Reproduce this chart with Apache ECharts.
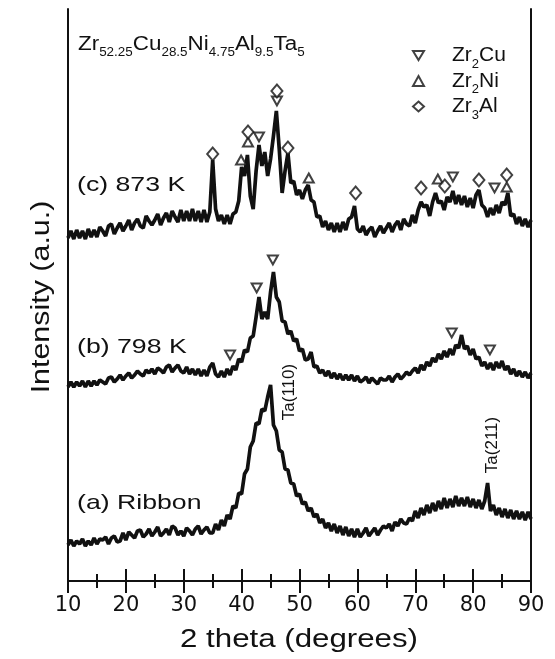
<!DOCTYPE html>
<html>
<head>
<meta charset="utf-8">
<script src="https://cdn.jsdelivr.net/npm/echarts@6.0.0/dist/echarts.min.js"></script>
<style>
html, body { margin: 0; padding: 0; background: #fff; }
#chart { width: 555px; height: 659px; }
</style>
</head>
<body>
<div id="chart"></div>
<script>
// 2 theta grid, 0.5 degree steps from 10 to 90
var twoTheta = [];
for (var i = 0; i <= 160; i++) twoTheta.push(10 + i * 0.5);

// (a) Ribbon
var ribbon = [
  36,41,35,40,37,42,35,40,36,43,
  37,42,41,44,37,43,45,39,40,48,
  41,49,46,43,50,51,44,47,52,45,
  49,54,45,48,52,46,55,53,46,50,
  45,53,50,46,52,55,47,51,54,48,
  48,57,51,61,55,66,62,75,73,88,
  87,107,112,134,140,158,157,172,170,184,
  196,156,150,131,129,112,111,98,97,85,
  87,77,79,70,73,64,67,58,62,53,
  58,50,57,48,55,46,54,45,52,44,
  52,44,48,53,45,49,53,46,51,55,
  53,57,50,59,55,62,58,57,63,60,
  70,63,73,66,76,68,78,70,80,72,
  83,73,82,74,85,75,83,75,84,74,
  82,73,81,72,80,98,70,76,66,73,
  64,72,63,71,62,70,62,69,61,69,
  62
];

// (b) 798 K
var k798 = [
  194,199,194,199,195,200,194,200,195,200,
  196,201,199,197,203,204,199,202,206,201,
  205,208,203,206,210,207,205,211,208,212,
  207,213,211,208,214,216,209,213,216,210,
  208,214,207,212,206,212,205,211,205,214,
  218,207,204,210,204,212,206,215,211,222,
  219,231,229,243,245,264,284,262,269,262,
  289,309,284,279,260,259,247,250,240,242,
  230,232,221,222,229,214,215,208,211,205,
  210,203,208,202,207,201,206,201,206,200,
  205,199,201,204,198,203,200,197,203,201,
  201,205,199,204,207,202,205,209,206,210,
  213,208,216,211,219,215,223,219,227,222,
  230,224,232,226,236,233,246,232,235,226,
  232,222,224,215,219,212,218,211,219,213,
  220,211,215,207,212,205,210,204,209,203,
  208
];

// (c) 873 K
var k873 = [
  343,350,342,351,343,350,342,352,344,351,
  344,354,350,345,355,357,347,353,358,350,
  355,361,351,358,362,355,353,365,360,356,
  361,367,356,363,368,359,370,364,359,371,
  360,370,360,372,360,370,359,371,359,369,
  421,372,360,366,357,366,357,367,369,380,
  414,405,426,385,372,410,436,415,429,405,
  422,445,470,432,388,410,428,398,400,386,
  391,382,391,396,381,379,364,365,354,360,
  351,358,349,358,349,359,351,362,364,375,
  352,349,355,346,351,354,344,350,355,348,
  353,358,349,356,360,351,362,357,355,366,
  358,371,379,374,376,365,379,388,378,380,
  371,384,379,390,377,386,376,385,374,383,
  373,386,391,376,373,364,373,366,376,368,
  379,376,388,365,367,357,364,355,362,354,
  361
];

// phase markers [2theta, height]
var zr2CuMarks = [[43.0,444],[46.1,480],[76.5,404],[83.7,393],
                  [38.0,226],[42.6,293],[45.4,321],[76.3,248],[82.9,231]];
var zr2NiMarks = [[39.9,421],[41.1,439],[51.6,403],[73.9,402],[85.8,394]];
var zr3AlMarks = [[35.0,427],[41.1,449],[46.1,490],[48.0,433],[59.7,388],
                  [71.0,393],[75.1,395],[81.0,401],[85.8,406]];

var phaseNames = ['Zr2Cu', 'Zr2Ni', 'Zr3Al'];
var alloy = 'Zr52.25Cu28.5Ni4.75Al9.5Ta5';
var xTicks = { min: 10, max: 90, step: 10 };

var FONT = '"Liberation Sans", Arial, sans-serif';
var INK = '#111';

function pairs(vals) {
  return twoTheta.map(function (t, i) { return [t, vals[i]]; });
}

// Zr2Cu -> {m|Zr}{s|2}{m|Cu}
function subRich(name) {
  return name.replace(/([A-Za-z]+)([\d.]+)?/g, function (m, el, n) {
    return '{m|' + el + '}' + (n ? '{s|' + n + '}' : '');
  });
}

var chart = echarts.init(document.getElementById('chart'));

function xAxisOf(pos) {
  return {
    type: 'value',
    position: pos,
    min: xTicks.min,
    max: xTicks.max,
    interval: xTicks.step,
    axisLine: { show: true, lineStyle: { color: INK, width: 2 } },
    axisTick: { show: true, inside: true, length: 12, lineStyle: { color: INK, width: 2 } },
    minorTick: { show: true, splitNumber: 2, length: 7, lineStyle: { color: INK, width: 2 } },
    splitLine: { show: false },
    axisLabel: {
      show: pos === 'bottom',
      margin: 14,
      fontSize: 21,
      fontFamily: '"DejaVu Sans", sans-serif',
      color: INK
    }
  };
}

function yAxisOf(pos) {
  return {
    type: 'value',
    position: pos,
    min: 0,
    max: 572,
    axisLine: { show: true, lineStyle: { color: INK, width: 2 } },
    axisTick: { show: false },
    axisLabel: { show: false },
    splitLine: { show: false }
  };
}

function traceLine(vals) {
  return {
    type: 'line',
    data: pairs(vals),
    showSymbol: false,
    silent: true,
    lineStyle: { color: INK, width: 3.7, join: 'bevel' },
    z: 2
  };
}

function markSeries(name, symbol, size, data) {
  return {
    name: name,
    type: 'scatter',
    symbol: symbol,
    symbolSize: size,
    data: data,
    silent: true,
    itemStyle: { color: '#fff', borderColor: INK, borderWidth: 2 },
    z: 5
  };
}

function label(text, x, y, size, opts) {
  var el = {
    type: 'text',
    x: x,
    y: y,
    style: {
      text: text,
      fontSize: size,
      fontFamily: FONT,
      fill: INK,
      align: 'left',
      verticalAlign: 'middle'
    }
  };
  for (var k in opts) el[k] = opts[k];
  return el;
}

function rotated(text, x, y, size, extra) {
  var opts = {
    rotation: Math.PI / 2,
    style: { text: text, fontSize: size, fontFamily: FONT, fill: INK, align: 'center', verticalAlign: 'middle' }
  };
  for (var k in extra) opts[k] = extra[k];
  return label(text, x, y, size, opts);
}

var legendRich = {
  m: { fontSize: 21, fontFamily: FONT, color: INK, lineHeight: 30, verticalAlign: 'middle' },
  s: { fontSize: 13, fontFamily: FONT, color: INK, lineHeight: 14, verticalAlign: 'bottom' }
};

var option = {
  animation: false,
  grid: { left: 68, right: 24, top: 9, bottom: 78 },
  xAxis: [xAxisOf('bottom'), xAxisOf('top')],
  yAxis: [yAxisOf('left'), yAxisOf('right')],
  legend: {
    orient: 'vertical',
    left: 407,
    top: 40,
    itemWidth: 11,
    itemHeight: 10,
    itemGap: 0,
    selectedMode: false,
    data: phaseNames,
    formatter: function (n) { return subRich(n); },
    textStyle: { padding: [0, 0, 0, 23], rich: legendRich }
  },
  series: [
    traceLine(ribbon),
    traceLine(k798),
    traceLine(k873),
    markSeries('Zr2Cu', 'path://M0,0L12,0L6,10Z', [10, 9], zr2CuMarks),
    markSeries('Zr2Ni', 'triangle', [10, 9], zr2NiMarks),
    markSeries('Zr3Al', 'diamond', [11, 13], zr3AlMarks)
  ],
  graphic: [
    {
      type: 'text', x: 78, y: 44, scaleX: 1.12,
      style: {
        text: subRich(alloy), align: 'left', verticalAlign: 'middle',
        rich: {
          m: { fontSize: 20, fontFamily: FONT, fill: INK, lineHeight: 30, verticalAlign: 'middle' },
          s: { fontSize: 12, fontFamily: FONT, fill: INK, lineHeight: 13, verticalAlign: 'bottom' }
        }
      }
    },
    label('(c) 873 K', 77, 185, 21, { scaleX: 1.27 }),
    label('(b) 798 K', 77, 347, 21, { scaleX: 1.27 }),
    label('(a) Ribbon', 77, 503, 21, { scaleX: 1.27 }),
    rotated('Ta(110)', 289, 392, 17),
    rotated('Ta(211)', 492, 445, 17),
    label('2 theta (degrees)', 299, 640, 25, {
      scaleX: 1.25,
      style: { text: '2 theta (degrees)', fontSize: 25, fontFamily: FONT, fill: INK, align: 'center', verticalAlign: 'middle' }
    }),
    rotated('Intensity (a.u.)', 42, 297, 26, { scaleX: 1.17 })
  ]
};

chart.setOption(option);
</script>
</body>
</html>
